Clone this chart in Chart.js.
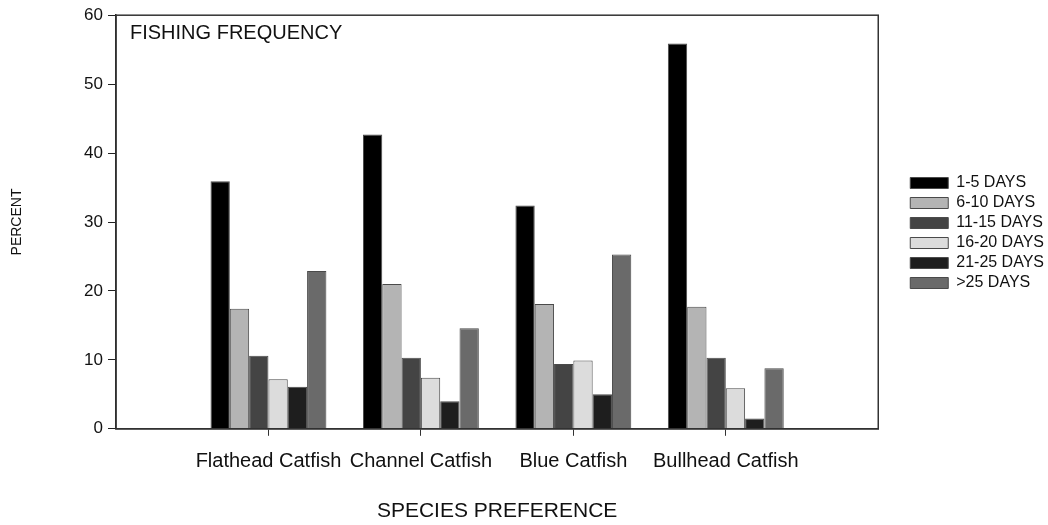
<!DOCTYPE html>
<html>
<head>
<meta charset="utf-8">
<script src="https://cdn.jsdelivr.net/npm/chart.js@4.4.1/dist/chart.umd.min.js"></script>
<style>
html,body{margin:0;padding:0;background:#fff;}
#wrap{width:1048px;height:525px;position:relative;}
</style>
</head>
<body>
<div id="wrap"><canvas id="c" width="1048" height="525"></canvas></div>
<script>
const categories = ['', 'Flathead Catfish', 'Channel Catfish', 'Blue Catfish', 'Bullhead Catfish', ''];
const seriesNames = ['1-5 DAYS', '6-10 DAYS', '11-15 DAYS', '16-20 DAYS', '21-25 DAYS', '>25 DAYS'];
const days1to5   = [null, 35.9, 42.7, 32.4, 55.9, null];
const days6to10  = [null, 17.4, 21.0, 18.1, 17.7, null];
const days11to15 = [null, 10.6, 10.3, 9.4, 10.3, null];
const days16to20 = [null, 7.2, 7.4, 9.9, 5.9, null];
const days21to25 = [null, 6.1, 4.0, 5.0, 1.5, null];
const daysOver25 = [null, 22.9, 14.6, 25.3, 8.8, null];
const yTicks = [0, 10, 20, 30, 40, 50, 60];
const chartTitle = 'FISHING FREQUENCY';
const xTitle = 'SPECIES PREFERENCE';
const yTitle = 'PERCENT';

const fills = ['#000000', '#b4b4b4', '#444444', '#dcdcdc', '#1e1e1e', '#6a6a6a'];
const seriesValues = [days1to5, days6to10, days11to15, days16to20, days21to25, daysOver25];
const FONT = "'Liberation Sans', Arial, sans-serif";

const boxPlugin = {
  id: 'boxPlugin',
  afterLayout(chart) {
    const l = chart.legend;
    if (l) { l.left += 28; l.right += 28; }
  },
  afterDatasetsDraw(chart) {
    const {ctx, chartArea: a} = chart;
    ctx.save();
    ctx.strokeStyle = '#333';
    ctx.lineWidth = 1.5;
    ctx.strokeRect(a.left, a.top, a.right - a.left, a.bottom - a.top);
    ctx.fillStyle = '#111';
    ctx.font = '20px ' + FONT;
    ctx.textBaseline = 'middle';
    ctx.textAlign = 'left';
    ctx.fillText(chartTitle, a.left + 14, a.top + 18);
    ctx.restore();
  }
};

new Chart(document.getElementById('c'), {
  type: 'bar',
  data: {
    labels: categories,
    datasets: seriesNames.map((n, i) => ({
      label: n,
      data: seriesValues[i],
      backgroundColor: fills[i],
      borderColor: '#4a4a4a',
      borderWidth: 1,
      categoryPercentage: 0.76,
      barPercentage: 1.0
    }))
  },
  options: {
    responsive: false,
    animation: false,
    devicePixelRatio: 1,
    layout: { padding: { left: 9, top: 14, right: 22, bottom: 1 } },
    plugins: {
      tooltip: { enabled: false },
      legend: {
        position: 'right',
        fullSize: false,
        align: 'center',
        title: { display: true, text: ' ', font: { size: 10 }, padding: 5 },
        labels: {
          boxWidth: 38,
          boxHeight: 11,
          padding: 4,
          color: '#111',
          font: { family: FONT, size: 16 }
        }
      }
    },
    scales: {
      x: {
        offset: false,
        grid: {
          offset: false,
          drawOnChartArea: false,
          tickLength: 7,
          color: (c) => (c.index === 0 || c.index === categories.length - 1) ? 'rgba(0,0,0,0)' : '#333'
        },
        border: { color: '#222', width: 1.5 },
        ticks: {
          autoSkip: false, maxRotation: 0, padding: 14,
          color: '#111', font: { family: FONT, size: 20 }
        },
        title: {
          display: true, text: xTitle, color: '#111',
          font: { family: FONT, size: 21 }, padding: { top: 11, bottom: 0 }
        }
      },
      y: {
        min: 0, max: 60,
        afterBuildTicks: (s) => { s.ticks = yTicks.map(v => ({ value: v })); },
        grid: { drawOnChartArea: false, tickLength: 8, color: '#222' },
        border: { color: '#222', width: 1.5 },
        ticks: { padding: 5, color: '#111', font: { family: FONT, size: 17 } },
        title: {
          display: true, text: yTitle, color: '#111',
          font: { family: FONT, size: 14 }, padding: { top: 0, bottom: 0 }
        },
        afterFit: (s) => { s.width = 107; }
      }
    }
  },
  plugins: [boxPlugin]
});
</script>
</body>
</html>
